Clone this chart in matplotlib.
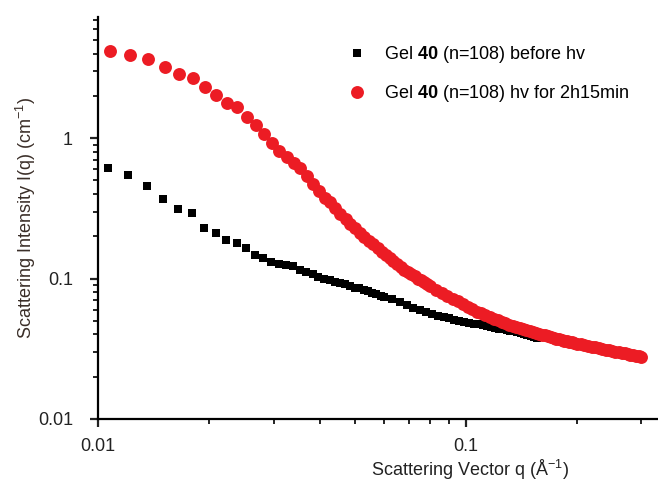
import matplotlib
matplotlib.use("Agg")
from matplotlib import pyplot as plt
from matplotlib.ticker import LogLocator, FixedLocator, FixedFormatter, NullFormatter

plt.rcParams['font.family'] = ['Liberation Sans', 'DejaVu Sans']
plt.rcParams['mathtext.fontset'] = 'custom'
plt.rcParams['mathtext.rm'] = 'Liberation Sans'
plt.rcParams['mathtext.bf'] = 'Liberation Sans:bold'


# --------------------------------------------------------------------------------------------------------------------
# data

q_before = [0.01065, 0.0121, 0.0136, 0.0150, 0.0165, 0.0180, 0.0194, 0.0209, 0.0223, 0.0238,
            0.0252, 0.0267, 0.0281, 0.0296, 0.0310, 0.0325, 0.0339, 0.0354, 0.0368, 0.0383,
            0.0397, 0.0412, 0.0426, 0.0441, 0.0455, 0.0470, 0.0484, 0.0499, 0.0513, 0.0528,
            0.0542, 0.0557, 0.0571, 0.0586, 0.0600, 0.0630, 0.0660, 0.0690, 0.0720, 0.0750,
            0.0780, 0.0810, 0.0840, 0.0870, 0.0900, 0.0930, 0.0960, 0.0990, 0.1020, 0.1050,
            0.1080, 0.1110, 0.1140, 0.1170, 0.1200, 0.1230, 0.1260, 0.1290, 0.1320, 0.1350,
            0.1380, 0.1410, 0.1440, 0.1470, 0.1500, 0.1530, 0.1560]

i_before = [0.61, 0.544, 0.454, 0.367, 0.311, 0.291, 0.231, 0.212, 0.188, 0.178,
            0.164, 0.147, 0.139, 0.131, 0.128, 0.124, 0.122, 0.116, 0.111, 0.107,
            0.102, 0.100, 0.098, 0.095, 0.093, 0.091, 0.088, 0.086, 0.085, 0.083,
            0.081, 0.079, 0.078, 0.075, 0.074, 0.071, 0.068, 0.065, 0.062, 0.060,
            0.058, 0.056, 0.0545, 0.053, 0.052, 0.0508, 0.0498, 0.0490, 0.0484, 0.0478,
            0.0472, 0.0466, 0.0459, 0.0452, 0.0446, 0.0440, 0.0435, 0.0430, 0.0426, 0.0421,
            0.0415, 0.0408, 0.0401, 0.0394, 0.0387, 0.0381, 0.0377]

q_after = [0.0108, 0.0122, 0.0137, 0.0152, 0.0166, 0.0181, 0.0195, 0.0209, 0.0224, 0.0238,
           0.0254, 0.0268, 0.0282, 0.0297, 0.0311, 0.0326, 0.0340, 0.0355, 0.0369, 0.0384,
           0.0398, 0.0413, 0.0427, 0.0442, 0.0456, 0.0471, 0.0485, 0.0500, 0.0515, 0.0530,
           0.0545, 0.0560, 0.0575, 0.0590, 0.0605, 0.0620, 0.0635, 0.0650, 0.0665, 0.0680,
           0.0695, 0.0710, 0.0725, 0.0740, 0.0755, 0.0770, 0.0785, 0.0800, 0.083, 0.086,
           0.089, 0.092, 0.095, 0.098, 0.101, 0.104, 0.107, 0.110, 0.113, 0.116,
           0.119, 0.122, 0.125, 0.128, 0.131, 0.134, 0.137, 0.140, 0.143, 0.146,
           0.149, 0.152, 0.155, 0.158, 0.161, 0.164, 0.167, 0.170, 0.173, 0.176,
           0.179, 0.182, 0.185, 0.188, 0.191, 0.194, 0.197, 0.200, 0.205, 0.210,
           0.215, 0.220, 0.225, 0.230, 0.235, 0.240, 0.245, 0.250, 0.255, 0.260,
           0.265, 0.270, 0.275, 0.280, 0.285, 0.290, 0.295, 0.300]

i_after = [4.18, 3.92, 3.67, 3.21, 2.86, 2.68, 2.31, 2.03, 1.78, 1.66,
           1.41, 1.24, 1.08, 0.93, 0.81, 0.74, 0.67, 0.61, 0.54, 0.47,
           0.42, 0.375, 0.35, 0.32, 0.29, 0.265, 0.245, 0.228, 0.212, 0.198,
           0.186, 0.175, 0.164, 0.155, 0.147, 0.140, 0.133, 0.127, 0.121, 0.116,
           0.112, 0.108, 0.104, 0.100, 0.097, 0.094, 0.091, 0.088, 0.083, 0.079,
           0.075, 0.072, 0.069, 0.066, 0.063, 0.061, 0.058, 0.0565, 0.0548, 0.0533,
           0.0518, 0.0505, 0.0493, 0.0481, 0.0470, 0.0460, 0.0452, 0.0444, 0.0436, 0.0429,
           0.0422, 0.0416, 0.0410, 0.0404, 0.0398, 0.0393, 0.0388, 0.0383, 0.0378, 0.0374,
           0.0370, 0.0366, 0.0362, 0.0358, 0.0354, 0.0351, 0.0347, 0.0344, 0.0340, 0.0336,
           0.0331, 0.0327, 0.0323, 0.0319, 0.0316, 0.0312, 0.0308, 0.0305, 0.0302, 0.0299,
           0.0296, 0.0293, 0.0290, 0.0287, 0.0284, 0.0282, 0.0279, 0.0277]

label_before = r"Gel $\mathbf{40}$ (n=108) before hv"
label_after = r"Gel $\mathbf{40}$ (n=108) hv for 2h15min"

x_ticks = [0.01, 0.1]
x_tick_labels = ["0.01", "0.1"]
y_ticks = [0.01, 0.1, 1]
y_tick_labels = ["0.01", "0.1", "1"]

RED = '#ec1c24'


# --------------------------------------------------------------------------------------------------------------------

fig = plt.figure(figsize=(6.58, 4.86), dpi=100)
ax = fig.add_axes([0.149, 0.138, 0.849, 0.827])

ax.plot(q_before, i_before, linestyle='none', marker='s', markersize=5.4, color='black',
        markeredgewidth=0, label=label_before)
ax.plot(q_after, i_after, linestyle='none', marker='o', markersize=9.3, color=RED,
        markeredgewidth=0, label=label_after)

ax.set_xscale('log')
ax.set_yscale('log')
ax.set_xlim(0.01, 0.33)
ax.set_ylim(0.01, 7.3)

# spines...
for side in ('top', 'right'):
    ax.spines[side].set_visible(False)
for side in ('left', 'bottom'):
    ax.spines[side].set_linewidth(1.6)

# ticks...
ax.xaxis.set_major_locator(FixedLocator(x_ticks))
ax.xaxis.set_major_formatter(FixedFormatter(x_tick_labels))
ax.xaxis.set_minor_locator(LogLocator(base=10, subs=range(2, 10)))
ax.xaxis.set_minor_formatter(NullFormatter())

ax.yaxis.set_major_locator(FixedLocator(y_ticks))
ax.yaxis.set_major_formatter(FixedFormatter(y_tick_labels))
ax.yaxis.set_minor_locator(LogLocator(base=10, subs=range(2, 10)))
ax.yaxis.set_minor_formatter(NullFormatter())

ax.tick_params(which='major', direction='out', length=6, width=1.6, labelsize=13, colors='#222222')
ax.tick_params(which='minor', direction='out', length=3.5, width=1.4, colors='#222222')
ax.tick_params(axis='x', which='major', pad=8)
ax.tick_params(axis='y', which='major', pad=12)

# labels...
ax.set_xlabel(r"Scattering Vector q ($\mathrm{\AA}^{-1}$)", fontsize=13, color='#222222')
ax.xaxis.set_label_coords(0.666, -0.098)
ax.set_ylabel(r"Scattering Intensity I(q) (cm$^{-1}$)", fontsize=13, color='#3a2e28')
ax.yaxis.set_label_coords(-0.107, 0.5)

# legend...
ax.legend(loc='upper left', bbox_to_anchor=(0.418, 0.973), frameon=False, fontsize=13,
          handlelength=1.0, handletextpad=1.0, labelspacing=1.0, markerscale=1.0)

fig.savefig("out.png", dpi=100, facecolor='white')
